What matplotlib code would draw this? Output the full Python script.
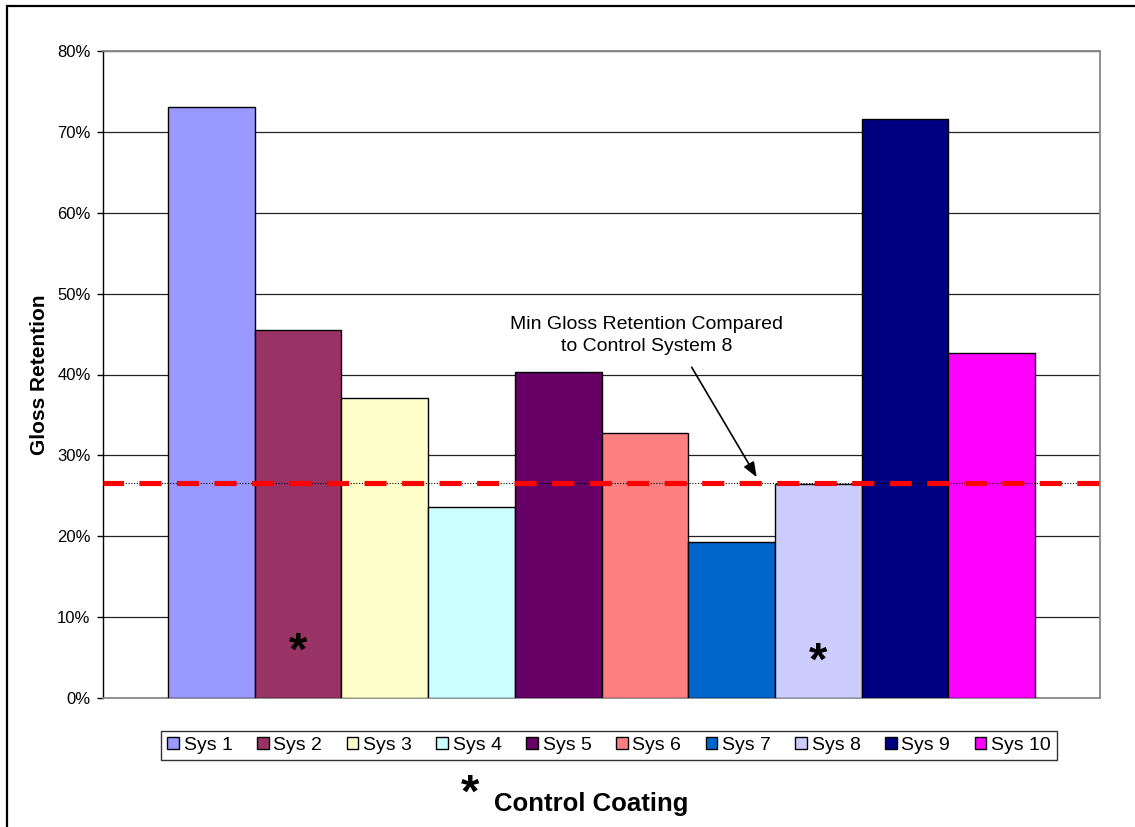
import matplotlib
matplotlib.use("Agg")
import matplotlib.pyplot as plt
from matplotlib.patches import Rectangle
from matplotlib.ticker import FuncFormatter

plt.rcParams['font.family'] = ['Liberation Sans', 'DejaVu Sans']

# ---- data ----
systems = ['Sys 1', 'Sys 2', 'Sys 3', 'Sys 4', 'Sys 5',
           'Sys 6', 'Sys 7', 'Sys 8', 'Sys 9', 'Sys 10']
gloss_retention = [73.1, 45.5, 37.1, 23.6, 40.3, 32.8, 19.3, 26.5, 71.6, 42.7]
colors = ['#9999FF', '#993366', '#FFFFCC', '#CCFFFF', '#660066',
          '#FF8080', '#0066CC', '#CCCCFF', '#000080', '#FF00FF']
control_systems = ['Sys 2', 'Sys 8']
min_retention = 26.6
y_ticks = [0, 10, 20, 30, 40, 50, 60, 70, 80]

W, H = 1135, 827
fig = plt.figure(figsize=(W / 100, H / 100), dpi=100)
fig.patch.set_facecolor('white')

# outer chart border
fig.patches.append(Rectangle((7 / W, -0.01), 1.02, 1 - 6 / H + 0.01,
                             transform=fig.transFigure, fill=False,
                             edgecolor='black', linewidth=1.6, zorder=0))

left, right, top, bottom = 103 / W, 1100 / W, 1 - 51 / H, 1 - 698 / H
ax = fig.add_axes([left, bottom, right - left, top - bottom])

bars = []
for i, (name, val, col) in enumerate(zip(systems, gloss_retention, colors)):
    b = ax.bar(i, val, width=1.0, color=col, edgecolor='black',
               linewidth=1.0, label=name, zorder=3)
    bars.append(b)

ax.set_xlim(-1.25, len(systems) + 0.25)
ax.set_ylim(y_ticks[0], y_ticks[-1])
ax.set_yticks(y_ticks)
ax.yaxis.set_major_formatter(FuncFormatter(lambda v, p: f'{v:.0f}%'))
ax.set_xticks([])
ax.grid(axis='y', color='#222222', linewidth=0.9, zorder=1)
ax.set_axisbelow(True)

for s in ['top', 'right', 'bottom']:
    ax.spines[s].set_color('#888888')
    ax.spines[s].set_linewidth(1.3)
ax.spines['left'].set_color('black')
ax.spines['left'].set_linewidth(1.0)
ax.tick_params(axis='y', direction='out', length=4, width=1.0,
               labelsize=12, pad=5, colors='black')

ax.set_ylabel('Gloss Retention', fontsize=15, fontweight='bold')
ax.yaxis.set_label_coords(-0.054, 0.5)

# min retention reference lines
ax.axhline(min_retention, color='black', linestyle=(0, (1, 1.5)),
           linewidth=0.8, zorder=4)
ax.axhline(min_retention, color='#FF0000', linewidth=3.7,
           linestyle=(0.3, (4.3, 3.0)), zorder=5)

# annotation
ax.text(5.02, 44.8, 'Min Gloss Retention Compared\nto Control System 8',
        ha='center', va='center', fontsize=14, linespacing=1.4, zorder=6)
ax.annotate('', xy=(6.29, min_retention + 0.7), xytext=(5.54, 40.9),
            arrowprops=dict(arrowstyle='-|>,head_length=0.9,head_width=0.35',
                            color='black', lw=1.2, shrinkA=0, shrinkB=0),
            zorder=6)

# control coating asterisks
ast_y = {'Sys 2': 5.6, 'Sys 8': 4.4}
for name in control_systems:
    i = systems.index(name)
    ax.text(i, ast_y[name], '*', ha='center', va='center',
            fontsize=34, fontweight='bold', zorder=6)

# legend
handles = [b[0] for b in bars]
leg = fig.legend(handles, systems, loc='center',
                 bbox_to_anchor=(609 / W, 1 - 745.5 / H), ncol=10,
                 fontsize=14, frameon=True, fancybox=False, shadow=False,
                 handlelength=0.6, handleheight=0.6, handletextpad=0.25,
                 columnspacing=1.25, borderpad=0.3, borderaxespad=0)
leg.get_frame().set_edgecolor('black')
leg.get_frame().set_linewidth(1.0)

# footnote
fig.text(470 / W, 1 - 795 / H, '*', ha='center', va='center',
         fontsize=34, fontweight='bold')
fig.text(591 / W, 1 - 804 / H, 'Control Coating', ha='center', va='center',
         fontsize=18.5, fontweight='bold')

fig.savefig('out.png', dpi=100, facecolor='white')
